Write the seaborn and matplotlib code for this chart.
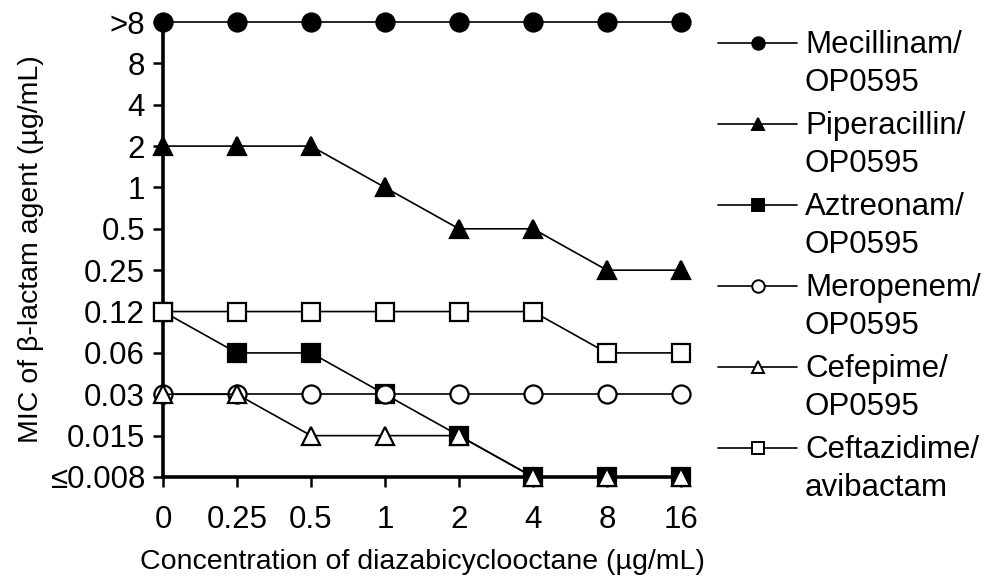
import matplotlib
matplotlib.use("Agg")
import matplotlib.pyplot as plt
from matplotlib.lines import Line2D
import seaborn as sns
import pandas as pd

# Concentration of diazabicyclooctane (µg/mL), categorical x axis
conc_labels = ["0", "0.25", "0.5", "1", "2", "4", "8", "16"]
# MIC levels, bottom to top
mic_levels = ["≤0.008", "0.015", "0.03", "0.06", "0.12", "0.25", "0.5", "1", "2", "4", "8", ">8"]

series_names = [
    "Mecillinam/\nOP0595",
    "Piperacillin/\nOP0595",
    "Aztreonam/\nOP0595",
    "Meropenem/\nOP0595",
    "Cefepime/\nOP0595",
    "Ceftazidime/\navibactam",
]
mecillinam = [">8", ">8", ">8", ">8", ">8", ">8", ">8", ">8"]
piperacillin = ["2", "2", "2", "1", "0.5", "0.5", "0.25", "0.25"]
aztreonam = ["0.12", "0.06", "0.06", "0.03", "0.015", "≤0.008", "≤0.008", "≤0.008"]
meropenem = ["0.03", "0.03", "0.03", "0.03", "0.03", "0.03", "0.03", "0.03"]
cefepime = ["0.03", "0.03", "0.015", "0.015", "0.015", "≤0.008", "≤0.008", "≤0.008"]
ceftazidime = ["0.12", "0.12", "0.12", "0.12", "0.12", "0.12", "0.06", "0.06"]

series_values = [mecillinam, piperacillin, aztreonam, meropenem, cefepime, ceftazidime]
markers = ["o", "^", "s", "o", "^", "s"]
fills = ["black", "black", "black", "white", "white", "white"]
# drawing order so hollow markers sit above filled ones
z_order = [3, 3, 3, 5, 6, 4]

rows = []
for name, vals in zip(series_names, series_values):
    for c, v in zip(conc_labels, vals):
        rows.append({"series": name, "x": conc_labels.index(c), "y": mic_levels.index(v)})
df = pd.DataFrame(rows)

sns.set_theme(style="white")
plt.rcParams["font.family"] = ["Liberation Sans", "DejaVu Sans"]
plt.rcParams["text.color"] = "black"

FS = 22.5       # tick labels and legend
FS_LABEL = 20.5  # axis titles
W, H = 989, 579
fig = plt.figure(figsize=(W / 100, H / 100), dpi=100)
ax = fig.add_axes([163 / W, 1 - 477 / H, (681 - 163) / W, (477 - 22) / H])

for name, mk, fc, z in zip(series_names, markers, fills, z_order):
    sub = df[df["series"] == name]
    sns.lineplot(data=sub, x="x", y="y", ax=ax, color="black", linewidth=1.2,
                 marker=mk, markersize=13, markerfacecolor=fc, markeredgecolor="black",
                 markeredgewidth=1.6, clip_on=False, zorder=z, legend=False)

ax.set_xlim(0, len(conc_labels) - 1)
ax.set_ylim(0, len(mic_levels) - 1)
ax.set_xticks(range(len(conc_labels)))
ax.set_xticklabels(conc_labels)
ax.set_yticks(range(len(mic_levels)))
ax.set_yticklabels(mic_levels)

for s in ["top", "right"]:
    ax.spines[s].set_visible(False)
for s in ["left", "bottom"]:
    ax.spines[s].set_color("black")
    ax.spines[s].set_linewidth(2.6)
    ax.spines[s].set_zorder(2)

ax.tick_params(axis="both", which="major", direction="out", length=7, width=1.8,
               color="black", labelsize=FS, labelcolor="black", left=True, bottom=True)
ax.tick_params(axis="x", pad=13)
ax.tick_params(axis="y", pad=6)

ax.set_xlabel("Concentration of diazabicyclooctane (µg/mL)", fontsize=FS_LABEL,
              color="black", labelpad=10)
ax.set_ylabel("MIC of β-lactam agent (µg/mL)", fontsize=FS_LABEL, color="black", labelpad=4)

# legend: handle aligned with the first line of each two-line label
def fx(px):
    return px / W

def fy(py):
    return 1 - py / H

for i, (name, mk, fc) in enumerate(zip(series_names, markers, fills)):
    yc = 43 + i * 81
    fig.add_artist(Line2D([fx(718), fx(797)], [fy(yc), fy(yc)], transform=fig.transFigure,
                          color="black", linewidth=1.2))
    fig.add_artist(Line2D([fx(757.5)], [fy(yc)], transform=fig.transFigure, linestyle="none",
                          marker=mk, markersize=9, markerfacecolor=fc, markeredgecolor="black",
                          markeredgewidth=1.4))
    first, second = name.split("\n")
    fig.text(fx(805), fy(yc + 10), first, fontsize=FS, color="black", va="baseline", ha="left")
    fig.text(fx(805), fy(yc + 48), second, fontsize=FS, color="black", va="baseline", ha="left")

fig.savefig("out.png", dpi=100, facecolor="white")
